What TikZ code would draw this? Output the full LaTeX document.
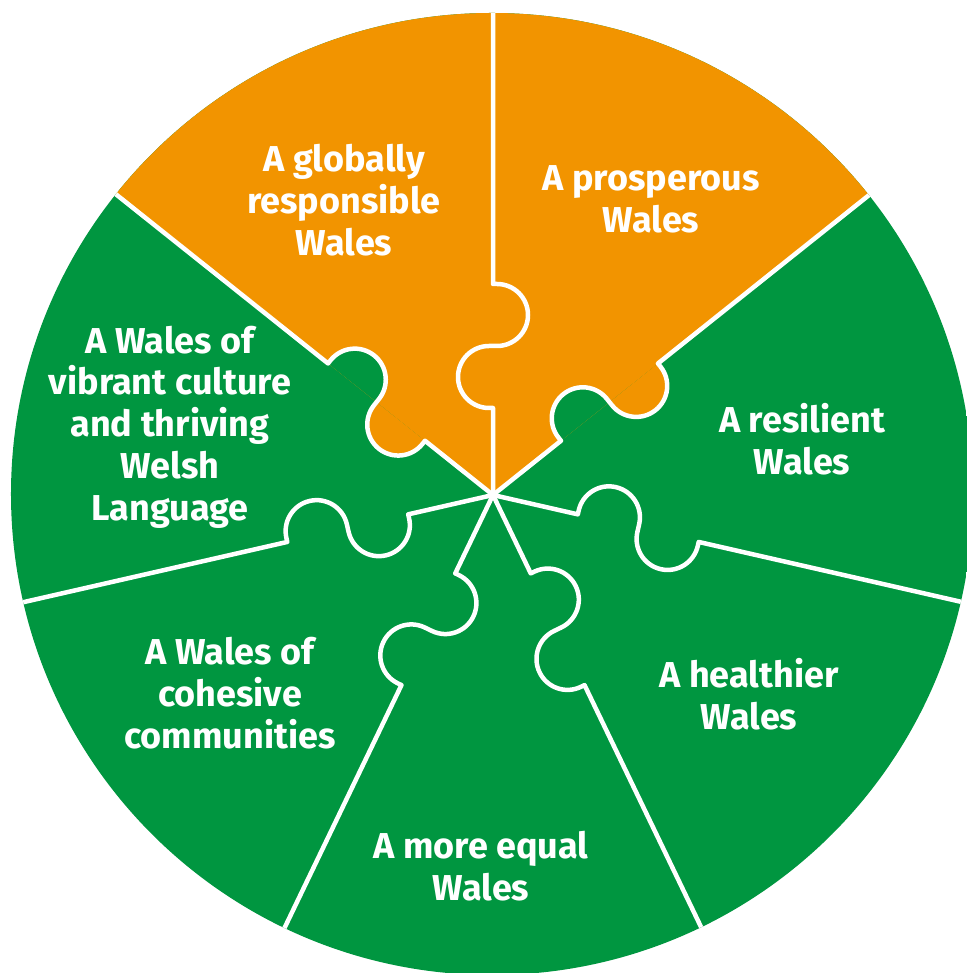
\documentclass[tikz,border=0pt]{standalone}
\usepackage{fontspec}
\setmainfont{Fira Sans}
\definecolor{wfgorange}{RGB}{242,148,0}
\definecolor{wfggreen}{RGB}{0,150,64}
\begin{document}
\begin{tikzpicture}[x=1pt,y=1pt,
  lbl/.style={text=white, font=\fontsize{36}{41.7}\selectfont\bfseries, align=center, inner sep=0pt},
  seam/.style={draw=white, line width=4.5pt, line join=round}]
\useasboundingbox (-493,-478) rectangle (474,495);
\clip (-493,-478) rectangle (474,495);
\fill[white] (-493,-478) rectangle (474,495);
\begin{scope}
  \clip (-1,1) circle[radius=481];
  \fill[wfggreen] (-493,-478) rectangle (474,495);
  \fill[wfgorange] (0,0) -- (38.571:700) -- (90:700) -- (141.429:700) -- cycle;
  % knobs on the seam between the orange and green pieces (right side)
  \begin{scope}[rotate=38.571]
    \fill[wfggreen] (87,0) -- (87,4) arc[start angle=180, end angle=0, radius=31] -- (149,0) -- cycle;
    \fill[wfgorange] (149,0) -- (149,-4) arc[start angle=180, end angle=360, radius=31] -- (211,0) -- cycle;
  \end{scope}
  % knobs on the seam between the orange and green pieces (left side)
  \begin{scope}[rotate=141.429]
    \fill[wfgorange] (87,0) -- (87,4) arc[start angle=180, end angle=0, radius=31] -- (149,0) -- cycle;
    \fill[wfggreen] (149,0) -- (149,-4) arc[start angle=180, end angle=360, radius=31] -- (211,0) -- cycle;
  \end{scope}
  % white seams
  \foreach \k in {0,...,6}{
    \pgfmathsetmacro{\ang}{90-\k*360/7}
    \draw[seam, rotate=\ang] (0,0) -- (87,0) -- (87,4)
      arc[start angle=180, end angle=0, radius=31] -- (149,-4)
      arc[start angle=180, end angle=360, radius=31] -- (211,0) -- (560,0);
  }
\end{scope}
\node[lbl] (global) at (-149,295) {A globally\\responsible\\Wales};
\node[lbl] (prosper) at (158,296) {A prosperous\\Wales};
\node[lbl] (resil) at (309,56) {A resilient\\Wales};
\node[lbl] (health) at (256,-199) {A healthier\\Wales};
\node[lbl] (equal) at (-12,-371) {A more equal\\Wales};
\node[lbl] (cohes) at (-263,-198) {A Wales of\\cohesive\\communities};
\node[lbl] (cult) at (-323,68) {A Wales of\\vibrant culture\\and thriving\\Welsh\\Language};
\end{tikzpicture}
\end{document}
